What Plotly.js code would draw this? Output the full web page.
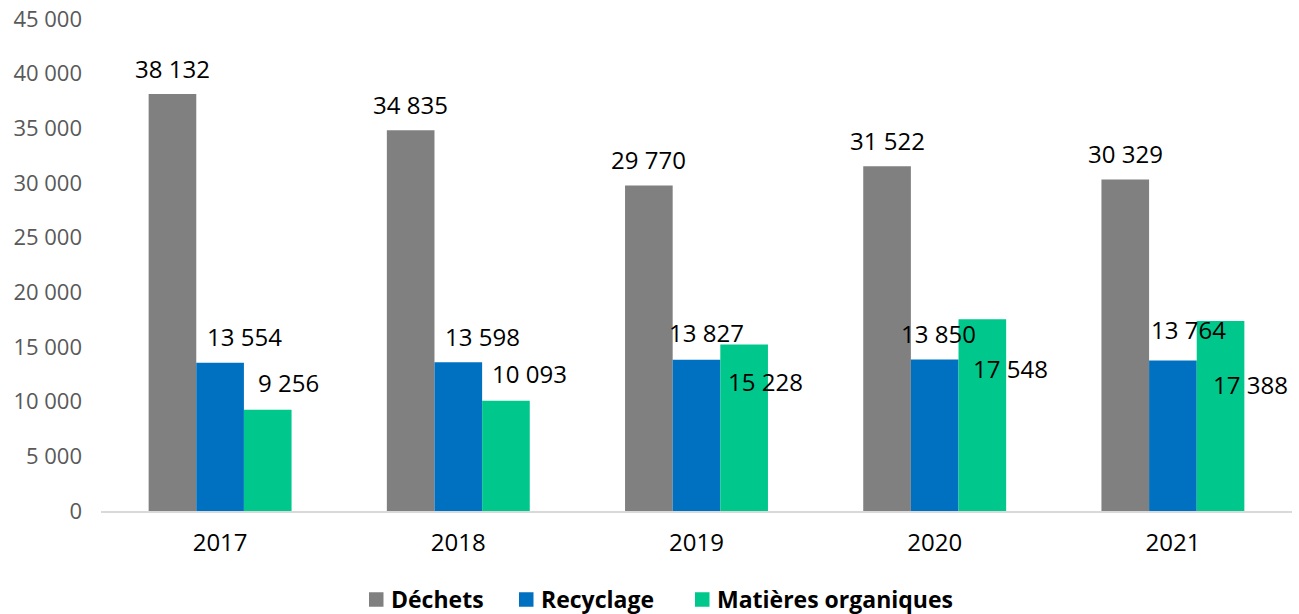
<!DOCTYPE html>
<html>
<head>
<meta charset="utf-8">
<script src="https://cdn.plot.ly/plotly-3.0.1.min.js"></script>
<style>html,body{margin:0;padding:0;background:#fff;}#chart{width:1299px;height:614px;}</style>
</head>
<body>
<div id="chart"></div>
<script>
// ---- data ----
const years = ['2017', '2018', '2019', '2020', '2021'];
const dechets = [38132, 34835, 29770, 31522, 30329];
const recyclage = [13554, 13598, 13827, 13850, 13764];
const organiques = [9256, 10093, 15228, 17548, 17388];
const seriesNames = ['Déchets', 'Recyclage', 'Matières organiques'];
const yTickVals = [0, 5000, 10000, 15000, 20000, 25000, 30000, 35000, 40000, 45000];
const yTickText = ['0', '5 000', '10 000', '15 000', '20 000', '25 000', '30 000', '35 000', '40 000', '45 000'];

// ---- style ----
const colors = ['#808080', '#0070C0', '#00C78C'];
const W = 1299, H = 614;
const margin = {l: 101, r: 7, t: 19, b: 103};
const bargap = 0.4;
// label nudges (pixels) per series, per year
const labelDx = [[0, 0, 0, 0, 0], [24, 24, 10, 4, 16], [21, 24, 21, 28, 30]];
const labelDy = [[26, 26, 26, 26, 26], [26, 26, 27, 26, 31], [27, 27, -37, -49, -64]];
// legend layout (pixels from top-left of the page)
const legendSquareLeft = [369, 519, 695];
const legendSquareSize = 14.5;
const legendCenterY = 599;
const legendTextGap = 20;

const fmt = v => String(v).replace(/\B(?=(\d{3})+(?!\d))/g, ' ');
const allSeries = [dechets, recyclage, organiques];

const traces = allSeries.map((vals, i) => ({
  type: 'bar',
  name: seriesNames[i],
  x: years,
  y: vals,
  marker: {color: colors[i]},
  hoverinfo: 'x+y+name',
  showlegend: false
}));

const plotW = W - margin.l - margin.r;
const plotH = H - margin.t - margin.b;
const catW = plotW / years.length;
const barW = catW * (1 - bargap) / allSeries.length;
const px2paperX = px => (px - margin.l) / plotW;
const px2paperY = py => (H - margin.b - py) / plotH;

const annotations = [];
allSeries.forEach((vals, i) => {
  const groupOffset = (i - (allSeries.length - 1) / 2) * barW;
  vals.forEach((v, j) => {
    annotations.push({
      x: j, y: v, xref: 'x', yref: 'y',
      text: fmt(v), showarrow: false,
      xanchor: 'center', yanchor: 'middle',
      xshift: groupOffset + labelDx[i][j],
      yshift: labelDy[i][j],
      font: {family: '"Open Sans", sans-serif', size: 24, color: '#000000'}
    });
  });
});

// custom legend (squares + bold labels)
const shapes = [];
seriesNames.forEach((name, i) => {
  const x0 = legendSquareLeft[i];
  shapes.push({
    type: 'rect', xref: 'paper', yref: 'paper',
    x0: px2paperX(x0), x1: px2paperX(x0 + legendSquareSize),
    y0: px2paperY(legendCenterY + legendSquareSize / 2 + 0.5),
    y1: px2paperY(legendCenterY - legendSquareSize / 2 + 0.5),
    fillcolor: colors[i], line: {width: 0}
  });
  annotations.push({
    xref: 'paper', yref: 'paper',
    x: px2paperX(x0 + legendTextGap), y: px2paperY(legendCenterY),
    xanchor: 'left', yanchor: 'middle', showarrow: false,
    text: '<b>' + name + '</b>',
    font: {family: '"Open Sans", sans-serif', size: 23, color: '#000000'}
  });
});

const layout = {
  width: W, height: H,
  margin: margin,
  paper_bgcolor: '#ffffff', plot_bgcolor: '#ffffff',
  barmode: 'group', bargap: bargap, bargroupgap: 0,
  font: {family: '"Open Sans", sans-serif'},
  xaxis: {
    type: 'category', range: [-0.5, years.length - 0.5], autorange: false,
    showgrid: false, zeroline: false,
    showline: true, linecolor: '#d9d9d9', linewidth: 1.5,
    ticks: '', ticklabelstandoff: 10,
    tickfont: {family: '"Open Sans", sans-serif', size: 24, color: '#000000'},
    fixedrange: true
  },
  yaxis: {
    range: [0, 45000], autorange: false, showgrid: false, zeroline: false, showline: false,
    tickvals: yTickVals, ticktext: yTickText, ticks: '',
    ticklabelstandoff: 18,
    tickfont: {family: '"Open Sans", sans-serif', size: 22, color: '#595959'},
    fixedrange: true
  },
  showlegend: false,
  shapes: shapes,
  annotations: annotations
};

Plotly.newPlot('chart', traces, layout, {displayModeBar: false, staticPlot: true});
</script>
</body>
</html>
